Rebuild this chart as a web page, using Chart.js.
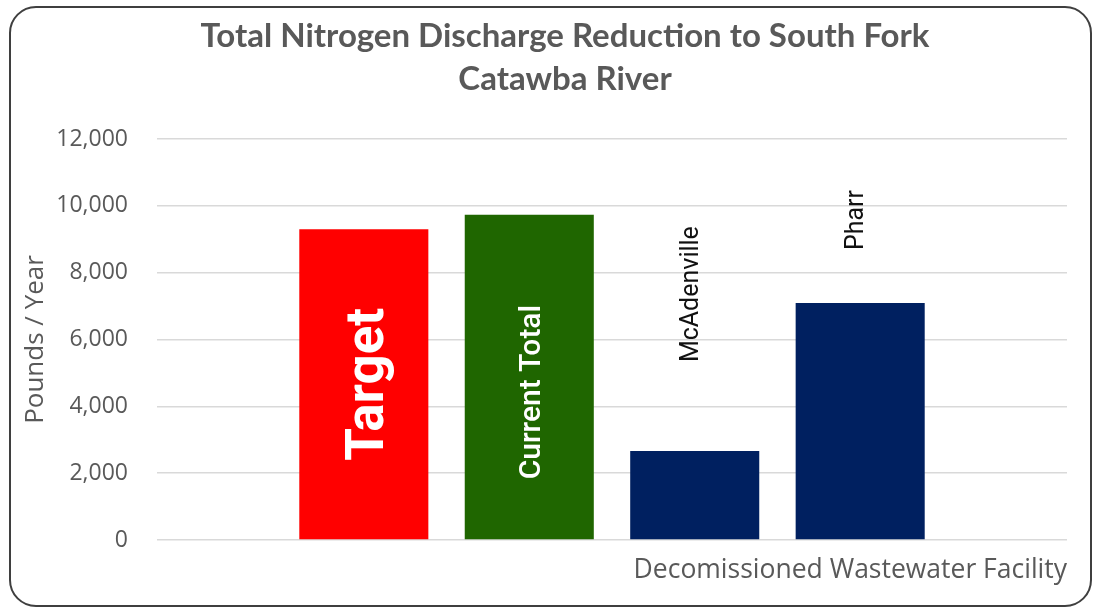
<!DOCTYPE html>
<html><head><meta charset="utf-8">
<script src="https://cdn.jsdelivr.net/npm/chart.js@4.4.1/dist/chart.umd.min.js"></script>
<style>html,body{margin:0;padding:0;background:#fff}#wrap{width:1094px;height:610px}</style>
</head><body><div id="wrap"><canvas id="c" width="1094" height="610"></canvas></div>
<script>
const titleLines = ['Total Nitrogen Discharge Reduction to South Fork', 'Catawba River'];
const categories = ['Target', 'Current Total', 'McAdenville', 'Pharr'];
const values = [9300, 9730, 2660, 7090];
const barColors = ['#FF0000', '#1F6600', '#002060', '#002060'];
const yTickValues = [0, 2000, 4000, 6000, 8000, 10000, 12000];
const yAxisTitle = 'Pounds / Year';
const xAxisTitle = 'Decomissioned Wastewater Facility';

const TEXT = '#595959';

const labelStyles = [
  {mode: 'inside', font: 'bold 53px Roboto', color: '#ffffff', capShift: 19, dy: 0},
  {mode: 'inside', font: '500 30px Roboto', color: '#ffffff', capShift: 10.5, dy: 15},
  {mode: 'above', font: '25px Roboto', color: '#111111', capShift: 3, gap: 89},
  {mode: 'above', font: '25px Roboto', color: '#111111', capShift: 2.5, gap: 53}
];

const decorPlugin = {
  id: 'decor',
  beforeDraw(chart) {
    const ctx = chart.ctx;
    ctx.save();
    ctx.fillStyle = '#ffffff';
    ctx.fillRect(0, 0, chart.width, chart.height);
    ctx.restore();
  },
  afterDatasetsDraw(chart) {
    const ctx = chart.ctx;
    const meta = chart.getDatasetMeta(0);
    meta.data.forEach((bar, i) => {
      const st = labelStyles[i];
      ctx.save();
      ctx.font = st.font;
      ctx.fillStyle = st.color;
      ctx.textBaseline = 'alphabetic';
      if (st.mode === 'inside') {
        const cy = (bar.y + bar.base) / 2 + st.dy;
        ctx.translate(bar.x + st.capShift, cy);
        ctx.rotate(-Math.PI / 2);
        ctx.textAlign = 'center';
        ctx.fillText(categories[i], 0, 0);
      } else {
        ctx.translate(bar.x + st.capShift, bar.y - st.gap);
        ctx.rotate(-Math.PI / 2);
        ctx.textAlign = 'left';
        ctx.fillText(categories[i], 0, 0);
      }
      ctx.restore();
    });
  },
  afterDraw(chart) {
    const ctx = chart.ctx;
    ctx.save();
    ctx.fillStyle = TEXT;
    ctx.font = 'bold 33px Lato';
    ctx.textAlign = 'center';
    ctx.textBaseline = 'alphabetic';
    ctx.fillText(titleLines[0], 565, 47);
    ctx.fillText(titleLines[1], 565, 90);
    ctx.strokeStyle = '#3f3f3f';
    ctx.lineWidth = 2;
    ctx.beginPath();
    ctx.roundRect(10, 7, 1081, 599, 26);
    ctx.stroke();
    ctx.restore();
  }
};

function build() {
  new Chart(document.getElementById('c'), {
    type: 'bar',
    data: {
      datasets: [{
        data: categories.map((c, i) => ({x: i, y: values[i]})),
        backgroundColor: barColors,
        borderWidth: 0,
        barPercentage: 0.78,
        categoryPercentage: 1
      }]
    },
    options: {
      responsive: false,
      devicePixelRatio: 1,
      animation: false,
      layout: {padding: {top: 139, left: 20, right: 27, bottom: 20}},
      plugins: {legend: {display: false}, tooltip: {enabled: false}, title: {display: false}},
      scales: {
        x: {
          type: 'linear',
          offset: false,
          min: -1.25,
          max: 4.25,
          grid: {display: false},
          border: {display: false},
          ticks: {display: false},
          title: {display: true, text: xAxisTitle, align: 'end', color: TEXT,
                  font: {family: 'Open Sans', size: 26.5}, padding: {top: 0, bottom: 4}},
          afterFit: s => { s.height = 50; }
        },
        y: {
          min: 0,
          max: 12000,
          afterBuildTicks: s => { s.ticks = yTickValues.map(v => ({value: v})); },
          ticks: {
            color: TEXT,
            font: {family: 'Open Sans', size: 23},
            padding: 29,
            callback: v => Number(v).toLocaleString('en-US')
          },
          grid: {color: '#D9D9D9', lineWidth: 1.5, drawTicks: false},
          border: {display: false},
          title: {display: true, text: yAxisTitle, color: TEXT,
                  font: {family: 'Open Sans', size: 26}, padding: 0},
          afterFit: s => { s.width = 137; }
        }
      }
    },
    plugins: [decorPlugin]
  });
}

const fontLoads = ['bold 53px Roboto', '500 30px Roboto', '25px Roboto', 'bold 33px Lato', '23px "Open Sans"', '26px "Open Sans"']
  .map(f => document.fonts.load(f).catch(() => null));
Promise.all(fontLoads).then(build, build);
</script>
</body></html>
